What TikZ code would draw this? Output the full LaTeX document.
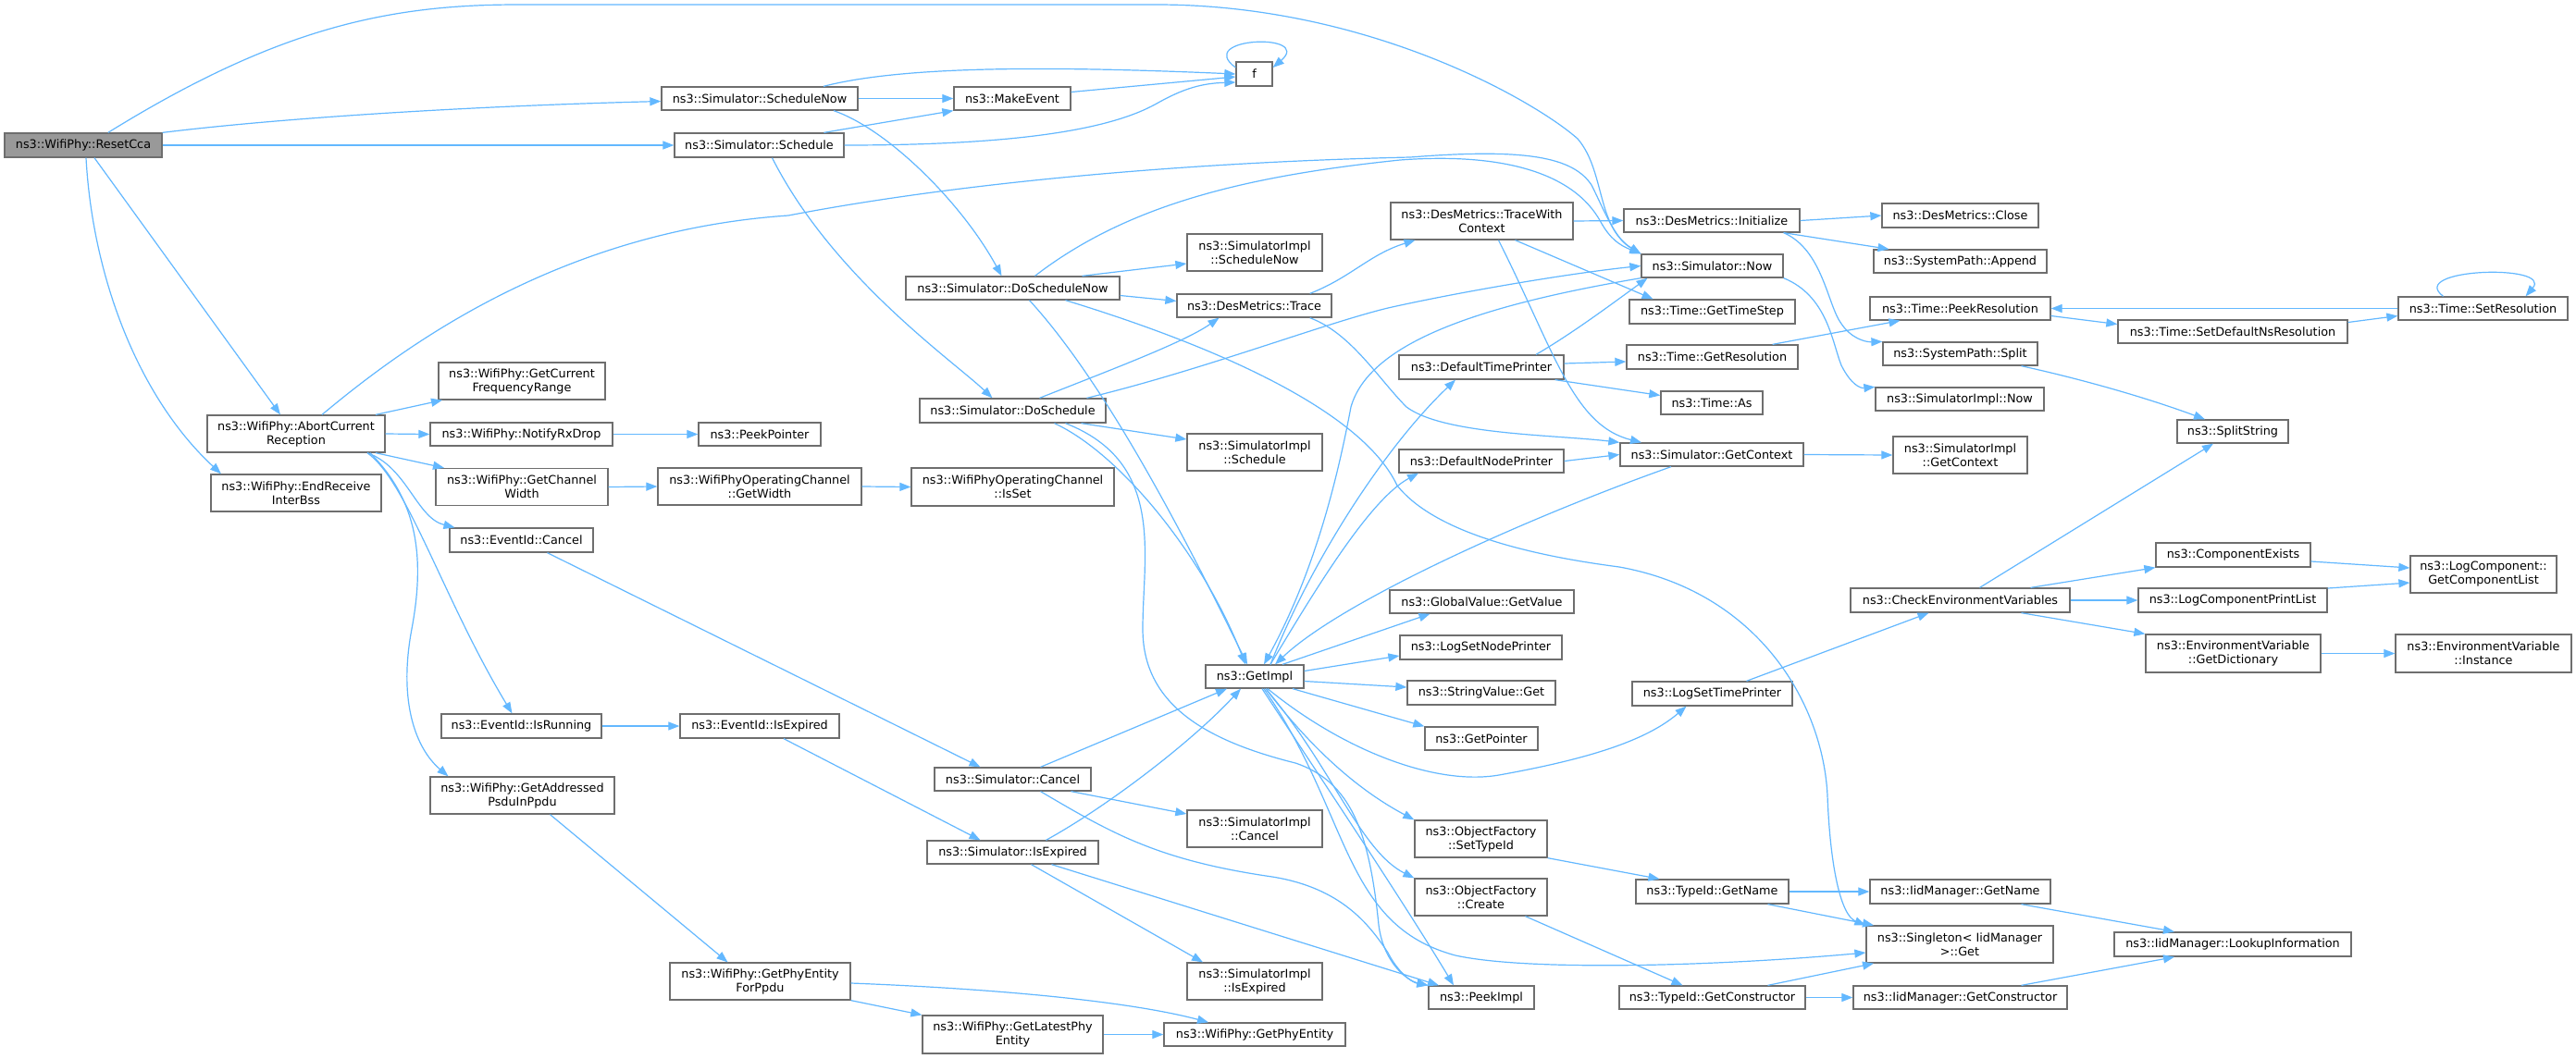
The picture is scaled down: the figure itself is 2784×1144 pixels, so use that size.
\documentclass[tikz,border=0pt]{standalone}
\usepackage{fontspec}
\setmainfont{DejaVu Sans}
\usetikzlibrary{arrows.meta}
\definecolor{edgeblue}{HTML}{63B8FF}
\definecolor{boxborder}{HTML}{6E6E6E}
\definecolor{rootfill}{HTML}{999999}
\newcommand{\nodefont}{\fontsize{12.8pt}{15pt}\selectfont}
\begin{document}
\begin{tikzpicture}[x=1pt,y=-1pt,
  box/.style={draw=boxborder, fill=white, line width=1.3pt, inner sep=0pt, align=center, font=\nodefont},
  nd/.style 2 args={minimum width=#1pt, minimum height=#2pt},
  edge/.style={draw=edgeblue, line width=1.2pt, -{Triangle[length=12pt,width=9pt]}}]
\fill[white] (0,0) rectangle (2784,1144);
\useasboundingbox (0,0) rectangle (2784,1144);

% ---------- nodes ----------
\node[box,nd={170}{26},fill=rootfill] (resetcca) at (90,157) {ns3::WifiPhy::ResetCca};
\node[box,nd={192}{40}] (abort) at (320,469) {ns3::WifiPhy::AbortCurrent\\Reception};
\node[box,nd={184}{40}] (endrecv) at (320,533) {ns3::WifiPhy::EndReceive\\InterBss};
\node[box,nd={180}{40}] (getcurfreq) at (564,412) {ns3::WifiPhy::GetCurrent\\FrequencyRange};
\node[box,nd={197}{25}] (notifyrx) at (563.5,469.5) {ns3::WifiPhy::NotifyRxDrop};
\node[box,nd={186}{40}] (getchw) at (564,526.5) {ns3::WifiPhy::GetChannel\\Width};
\node[box,nd={155}{26}] (evcancel) at (563.5,584) {ns3::EventId::Cancel};
\node[box,nd={173}{26}] (evisrunning) at (563.5,785) {ns3::EventId::IsRunning};
\node[box,nd={199}{40}] (getaddr) at (564.5,860) {ns3::WifiPhy::GetAddressed\\PsduInPpdu};
\node[box,nd={132}{25}] (peekpointer) at (821,469.5) {ns3::PeekPointer};
\node[box,nd={220}{40}] (getwidth) at (821,526) {ns3::WifiPhyOperatingChannel\\::GetWidth};
\node[box,nd={219}{41}] (isset) at (1094.5,526.5) {ns3::WifiPhyOperatingChannel\\::IsSet};
\node[box,nd={172}{26}] (evisexpired) at (821,785) {ns3::EventId::IsExpired};
\node[box,nd={169}{25}] (simcancel) at (1094.5,842.5) {ns3::Simulator::Cancel};
\node[box,nd={185}{25}] (simisexpired) at (1094.5,921.5) {ns3::Simulator::IsExpired};
\node[box,nd={195}{40}] (getphyforppdu) at (821.5,1061) {ns3::WifiPhy::GetPhyEntity\\ForPpdu};
\node[box,nd={195}{41}] (getlatest) at (1094.5,1118.5) {ns3::WifiPhy::GetLatestPhy\\Entity};
\node[box,nd={196}{25}] (getphyentity) at (1356,1118.5) {ns3::WifiPhy::GetPhyEntity};
\node[box,nd={146}{40}] (simimplcancel) at (1356,896) {ns3::SimulatorImpl\\::Cancel};
\node[box,nd={146}{40}] (simimplisexpired) at (1356,1061) {ns3::SimulatorImpl\\::IsExpired};
\node[box,nd={106}{25}] (getimpl) at (1356,731.5) {ns3::GetImpl};
\node[box,nd={212}{25}] (schednow) at (821,106.5) {ns3::Simulator::ScheduleNow};
\node[box,nd={183}{26}] (schedule) at (820.5,157) {ns3::Simulator::Schedule};
\node[box,nd={126}{25}] (makeevent) at (1094,106.5) {ns3::MakeEvent};
\node[box,nd={39}{26}] (f) at (1355.5,80) {f};
\node[box,nd={231}{25}] (doschednow) at (1094.5,311.5) {ns3::Simulator::DoScheduleNow};
\node[box,nd={201}{26}] (doschedule) at (1094.5,444) {ns3::Simulator::DoSchedule};
\node[box,nd={146}{40}] (simimplschednow) at (1356,273) {ns3::SimulatorImpl\\::ScheduleNow};
\node[box,nd={167}{25}] (destrace) at (1355.5,330.5) {ns3::DesMetrics::Trace};
\node[box,nd={146}{40}] (simimplschedule) at (1356,489) {ns3::SimulatorImpl\\::Schedule};
\node[box,nd={197}{40}] (tracewithctx) at (1601.5,239) {ns3::DesMetrics::TraceWith\\Context};
\node[box,nd={178}{26}] (deftimeprinter) at (1601,397) {ns3::DefaultTimePrinter};
\node[box,nd={178}{25}] (defnodeprinter) at (1601,498.5) {ns3::DefaultNodePrinter};
\node[box,nd={199}{25}] (globalvalue) at (1601.5,650.5) {ns3::GlobalValue::GetValue};
\node[box,nd={175}{26}] (logsetnodeprinter) at (1600.5,700) {ns3::LogSetNodePrinter};
\node[box,nd={160}{26}] (stringvalue) at (1601,749) {ns3::StringValue::Get};
\node[box,nd={122}{25}] (getpointer) at (1601,798.5) {ns3::GetPointer};
\node[box,nd={143}{40}] (ofsettypeid) at (1600.5,907) {ns3::ObjectFactory\\::SetTypeId};
\node[box,nd={143}{40}] (ofcreate) at (1600.5,970) {ns3::ObjectFactory\\::Create};
\node[box,nd={114}{25}] (peekimpl) at (1601,1078.5) {ns3::PeekImpl};
\node[box,nd={190}{25}] (desinit) at (1850,238.5) {ns3::DesMetrics::Initialize};
\node[box,nd={153}{25}] (simnow) at (1850.5,287.5) {ns3::Simulator::Now};
\node[box,nd={179}{26}] (gettimestep) at (1850.5,337) {ns3::Time::GetTimeStep};
\node[box,nd={185}{26}] (getresolution) at (1850.5,386) {ns3::Time::GetResolution};
\node[box,nd={110}{25}] (timeas) at (1850,435.5) {ns3::Time::As};
\node[box,nd={198}{25}] (getcontext) at (1850,491.5) {ns3::Simulator::GetContext};
\node[box,nd={173}{26}] (logsettimeprinter) at (1850.5,750) {ns3::LogSetTimePrinter};
\node[box,nd={165}{26}] (typeidgetname) at (1850.5,964) {ns3::TypeId::GetName};
\node[box,nd={201}{25}] (typeidgetctor) at (1850.5,1078.5) {ns3::TypeId::GetConstructor};
\node[box,nd={169}{26}] (desclose) at (2118.5,233) {ns3::DesMetrics::Close};
\node[box,nd={187}{25}] (sysappend) at (2118.5,282.5) {ns3::SystemPath::Append};
\node[box,nd={195}{25}] (peekres) at (2118.5,333.5) {ns3::Time::PeekResolution};
\node[box,nd={167}{25}] (syssplit) at (2118.5,382.5) {ns3::SystemPath::Split};
\node[box,nd={182}{25}] (simimplnow) at (2118,431.5) {ns3::SimulatorImpl::Now};
\node[box,nd={145}{40}] (simimplgetctx) at (2118.5,492) {ns3::SimulatorImpl\\::GetContext};
\node[box,nd={237}{26}] (checkenv) at (2118.5,649) {ns3::CheckEnvironmentVariables};
\node[box,nd={195}{26}] (iidgetname) at (2118.5,964) {ns3::IidManager::GetName};
\node[box,nd={202}{40}] (singleton) at (2118,1021) {ns3::Singleton< IidManager\\ >::Get};
\node[box,nd={231}{25}] (iidgetctor) at (2118.5,1078.5) {ns3::IidManager::GetConstructor};
\node[box,nd={248}{25}] (setdefnsres) at (2413,358.5) {ns3::Time::SetDefaultNsResolution};
\node[box,nd={120}{25}] (splitstring) at (2413,466.5) {ns3::SplitString};
\node[box,nd={167}{26}] (componentexists) at (2413.5,600) {ns3::ComponentExists};
\node[box,nd={204}{26}] (logcompprintlist) at (2413,649) {ns3::LogComponentPrintList};
\node[box,nd={189}{41}] (getdictionary) at (2413.5,706.5) {ns3::EnvironmentVariable\\::GetDictionary};
\node[box,nd={256}{26}] (lookupinfo) at (2413,1021) {ns3::IidManager::LookupInformation};
\node[box,nd={183}{25}] (setresolution) at (2683.5,333.5) {ns3::Time::SetResolution};
\node[box,nd={158}{40}] (getcomplist) at (2684,621) {ns3::LogComponent::\\GetComponentList};
\node[box,nd={190}{41}] (envinstance) at (2684,706.5) {ns3::EnvironmentVariable\\::Instance};

% ---------- edges ----------
% ResetCca
\draw[edge] (resetcca.27.5) .. controls (300,30) and (420,5) .. (560,5) -- (1250,5) .. controls (1480,5) and (1660,110) .. (1705,150) .. controls (1735,185) and (1725,245) .. (simnow.north west);
\draw[edge] (resetcca.north east) .. controls (300,128) and (500,115) .. ([yshift=-3pt]schednow.west);
\draw[edge] (resetcca.east) -- (schedule.west);
\draw[edge] ([xshift=12pt]resetcca.south) -- ([xshift=-17pt]abort.north);
\draw[edge] ([xshift=3pt]resetcca.south) .. controls (100,300) and (150,430) .. ([xshift=-81pt]endrecv.north);
% AbortCurrentReception
\draw[edge] ([xshift=28pt]abort.north) .. controls (430,380) and (600,250) .. (852,233) .. controls (1050,195) and (1300,175) .. (1524,170) .. controls (1650,160) and (1700,170) .. (1720,200) .. controls (1735,230) and (1745,258) .. (simnow.north west);
\draw[edge] ([xshift=86pt]abort.north) -- ([xshift=-86pt]getcurfreq.south);
\draw[edge] (abort.east) -- (notifyrx.west);
\draw[edge] ([xshift=86pt]abort.south) -- ([xshift=-84pt]getchw.north);
\draw[edge] ([xshift=77pt]abort.south) .. controls (440,505) and (450,560) .. ([xshift=-72pt]evcancel.north);
\draw[edge] ([xshift=77pt]abort.south) .. controls (440,520) and (480,650) .. ([xshift=-10pt]evisrunning.north);
\draw[edge] ([xshift=80pt]abort.south) .. controls (450,540) and (460,600) .. (445,680) .. controls (430,760) and (450,810) .. ([xshift=-80pt]getaddr.north);
\draw[edge] (notifyrx.east) -- (peekpointer.west);
\draw[edge] (getchw.east) -- (getwidth.west);
\draw[edge] (getwidth.east) -- (isset.west);
\draw[edge] ([xshift=28pt]evcancel.south) -- ([xshift=-35pt]simcancel.north);
\draw[edge] (evisrunning.east) -- (evisexpired.west);
\draw[edge] ([xshift=26pt]evisexpired.south) -- ([xshift=-35pt]simisexpired.north);
\draw[edge] ([xshift=30pt]getaddr.south) -- ([xshift=-35pt]getphyforppdu.north);
\draw[edge] (getphyforppdu.south east) -- (getlatest.north west);
\draw[edge] ([yshift=-2pt]getphyforppdu.east) .. controls (1100,1070) and (1230,1085) .. ([xshift=-50pt]getphyentity.north);
\draw[edge] (getlatest.east) -- (getphyentity.west);
% Schedule / ScheduleNow
\draw[edge] (schednow.east) -- (makeevent.west);
\draw[edge] ([xshift=69pt]schednow.north) .. controls (980,70) and (1150,72) .. (f.west);
\draw[edge] ([xshift=80pt]schednow.south) .. controls (960,140) and (1040,220) .. ([xshift=-12pt]doschednow.north);
\draw[edge] ([xshift=70pt]schedule.north) -- (makeevent.south west);
\draw[edge] (schedule.east) .. controls (1100,157) and (1200,140) .. (1250,112) .. controls (1280,95) and (1300,90) .. ([yshift=-9pt]f.west);
\draw[edge] ([xshift=14pt]schedule.south) .. controls (900,300) and (1030,390) .. ([xshift=-22pt]doschedule.north);
\draw[edge] ([yshift=7pt]makeevent.east) -- ([yshift=-3pt]f.west);
\draw[edge] ([yshift=7pt]f.west) .. controls (1290,40) and (1420,35) .. ([yshift=7pt]f.east);
% DoScheduleNow
\draw[edge] ([xshift=24pt]doschednow.north) .. controls (1220,220) and (1350,190) .. (1513,173) .. controls (1620,165) and (1700,185) .. (1730,240) .. controls (1740,258) and (1750,265) .. (simnow.north west);
\draw[edge] ([xshift=75pt]doschednow.north) -- ([yshift=-12pt]simimplschednow.west);
\draw[edge] ([yshift=-8pt]doschednow.east) -- ([yshift=5pt]destrace.west);
\draw[edge] ([xshift=18pt]doschednow.south) .. controls (1200,420) and (1290,600) .. ([xshift=-8pt]getimpl.north);
\draw[edge] ([xshift=57pt]doschednow.south) .. controls (1300,370) and (1470,440) .. (1510,525) .. controls (1550,575) and (1650,600) .. (1750,613) .. controls (1900,640) and (1970,760) .. (1975,860) .. controls (1978,940) and (1990,990) .. (singleton.north west);
% DoSchedule
\draw[edge] ([xshift=29pt]doschedule.north) .. controls (1200,400) and (1280,370) .. ([xshift=-38pt]destrace.south);
\draw[edge] ([xshift=80pt]doschedule.north) .. controls (1300,400) and (1430,350) .. (1500,333) .. controls (1580,315) and (1700,295) .. (simnow.west);
\draw[edge] ([xshift=74pt]doschedule.south) -- ([yshift=14pt]simimplschedule.west);
\draw[edge] ([xshift=45pt]doschedule.south) .. controls (1210,490) and (1300,600) .. ([xshift=-10pt]getimpl.north);
\draw[edge] ([xshift=57pt]doschedule.south) .. controls (1260,500) and (1235,600) .. (1235,680) .. controls (1235,760) and (1300,800) .. (1400,825) .. controls (1460,845) and (1480,900) .. (1490,1000) .. controls (1495,1040) and (1520,1060) .. (peekimpl.north west);
% DesMetrics
\draw[edge] ([xshift=-24pt]destrace.north east) .. controls (1460,300) and (1480,275) .. ([xshift=-72pt]tracewithctx.south);
\draw[edge] ([xshift=-24pt]destrace.south east) .. controls (1460,360) and (1490,410) .. (1520,440) .. controls (1560,470) and (1680,470) .. (getcontext.north west);
\draw[edge] (tracewithctx.east) -- (desinit.west);
\draw[edge] ([xshift=36pt]tracewithctx.south) -- ([xshift=-64pt]gettimestep.north);
\draw[edge] ([xshift=18pt]tracewithctx.south) .. controls (1680,380) and (1700,460) .. ([xshift=-76pt]getcontext.north);
\draw[edge] (desinit.east) -- (desclose.west);
\draw[edge] ([xshift=-18pt]desinit.south east) -- ([xshift=-77pt]sysappend.north);
\draw[edge] ([xshift=-18pt]desinit.south east) .. controls (1970,270) and (1975,330) .. (1990,350) .. controls (2000,365) and (2015,370) .. (syssplit.north west);
% Simulator::Now
\draw[edge] (simnow.south east) .. controls (1975,320) and (1980,370) .. (1990,395) .. controls (2000,415) and (2010,420) .. (simimplnow.north west);
\draw[edge] (simnow.south west) .. controls (1600,330) and (1480,370) .. (1460,440) .. controls (1445,520) and (1420,620) .. ([xshift=10pt]getimpl.north);
% printers
\draw[edge] ([xshift=59pt]deftimeprinter.north) .. controls (1700,360) and (1740,330) .. ([xshift=-70pt]simnow.south);
\draw[edge] ([yshift=4pt]deftimeprinter.east) -- ([yshift=-5pt]getresolution.west);
\draw[edge] ([xshift=-10pt]deftimeprinter.south east) -- ([yshift=8pt]timeas.west);
\draw[edge] (defnodeprinter.east) -- (getcontext.west);
\draw[edge] (getcontext.east) -- (simimplgetctx.west);
\draw[edge] ([xshift=-44pt]getcontext.south) .. controls (1650,560) and (1450,650) .. ([xshift=22pt]getimpl.north);
% Time
\draw[edge] ([xshift=-28pt]getresolution.north east) -- ([xshift=-65pt]peekres.south);
\draw[edge] ([yshift=-8pt]peekres.east) -- ([yshift=8pt]setdefnsres.west);
\draw[edge] ([yshift=10pt]setdefnsres.east) -- ([yshift=-8pt]setresolution.west);
\draw[edge] (setresolution.west) -- (peekres.east);
\draw[edge] ([xshift=-43pt]setresolution.north) .. controls (2600,290) and (2760,285) .. ([xshift=46pt]setresolution.north);
\draw[edge] ([xshift=66pt]syssplit.south) .. controls (2250,410) and (2320,430) .. ([xshift=-30pt]splitstring.north);
% GetImpl
\draw[edge] ([xshift=17pt]getimpl.north) .. controls (1420,600) and (1500,480) .. ([xshift=-28pt]deftimeprinter.south);
\draw[edge] ([xshift=17pt]getimpl.north) .. controls (1420,640) and (1480,540) .. ([xshift=-68pt]defnodeprinter.south);
\draw[edge] ([xshift=30pt]getimpl.north) -- ([xshift=-56pt]globalvalue.south);
\draw[edge] ([yshift=6pt]getimpl.east) -- ([yshift=-9pt]logsetnodeprinter.west);
\draw[edge] ([yshift=-5pt]getimpl.east) -- ([yshift=6pt]stringvalue.west);
\draw[edge] ([xshift=41pt]getimpl.south) -- (getpointer.north west);
\draw[edge] ([xshift=14pt]getimpl.south) .. controls (1450,810) and (1550,850) .. (1620,838) .. controls (1720,820) and (1780,800) .. ([xshift=-28pt]logsettimeprinter.south);
\draw[edge] ([xshift=12pt]getimpl.south) .. controls (1410,800) and (1460,850) .. (ofsettypeid.north west);
\draw[edge] ([xshift=12pt]getimpl.south) .. controls (1440,830) and (1470,920) .. (ofcreate.north west);
\draw[edge] ([xshift=8pt]getimpl.south) .. controls (1420,830) and (1520,980) .. ([xshift=-30pt]peekimpl.north);
\draw[edge] ([xshift=10pt]getimpl.south) .. controls (1460,880) and (1450,1000) .. (1573,1033) .. controls (1650,1050) and (1850,1045) .. ([yshift=-9pt]singleton.west);
% Cancel / IsExpired
\draw[edge] ([xshift=30pt]simcancel.north) -- ([xshift=-30pt]getimpl.south);
\draw[edge] ([xshift=63pt]simcancel.south) -- ([yshift=16pt]simimplcancel.west);
\draw[edge] ([xshift=30pt]simcancel.south) .. controls (1200,900) and (1250,930) .. (1375,948) .. controls (1450,960) and (1480,1000) .. (1500,1030) .. controls (1510,1050) and (1525,1062) .. (peekimpl.north west);
\draw[edge] ([xshift=36pt]simisexpired.north) .. controls (1200,870) and (1290,800) .. ([xshift=-15pt]getimpl.south);
\draw[edge] ([xshift=20pt]simisexpired.south) -- ([xshift=-56pt]simimplisexpired.north);
\draw[edge] ([xshift=42pt]simisexpired.south) -- ([xshift=-46pt]peekimpl.north);
% Log / Environment
\draw[edge] ([xshift=37pt]logsettimeprinter.north) -- ([xshift=-34pt]checkenv.south);
\draw[edge] ([xshift=21pt]checkenv.north) -- ([xshift=-21pt]splitstring.south);
\draw[edge] ([xshift=76pt]checkenv.north) -- (componentexists.south west);
\draw[edge] (checkenv.east) -- (logcompprintlist.west);
\draw[edge] ([xshift=66pt]checkenv.south) -- (getdictionary.north west);
\draw[edge] ([yshift=-7pt]componentexists.east) -- ([yshift=7pt]getcomplist.west);
\draw[edge] ([yshift=13pt]logcompprintlist.east) -- ([yshift=-9pt]getcomplist.west);
\draw[edge] (getdictionary.east) -- (envinstance.west);
% ObjectFactory / TypeId
\draw[edge] (ofsettypeid.south east) -- ([xshift=-57pt]typeidgetname.north);
\draw[edge] ([xshift=48pt]ofcreate.south) -- ([xshift=-32pt]typeidgetctor.north);
\draw[edge] (typeidgetname.east) -- (iidgetname.west);
\draw[edge] ([xshift=60pt]typeidgetname.south) -- ([xshift=-93pt]singleton.north);
\draw[edge] (typeidgetctor.east) -- (iidgetctor.west);
\draw[edge] ([xshift=60pt]typeidgetctor.north) -- ([xshift=-93pt]singleton.south);
\draw[edge] ([xshift=66pt]iidgetname.south) -- ([xshift=-63pt]lookupinfo.north);
\draw[edge] ([xshift=66pt]iidgetctor.north) -- ([xshift=-63pt]lookupinfo.south);
\end{tikzpicture}
\end{document}
